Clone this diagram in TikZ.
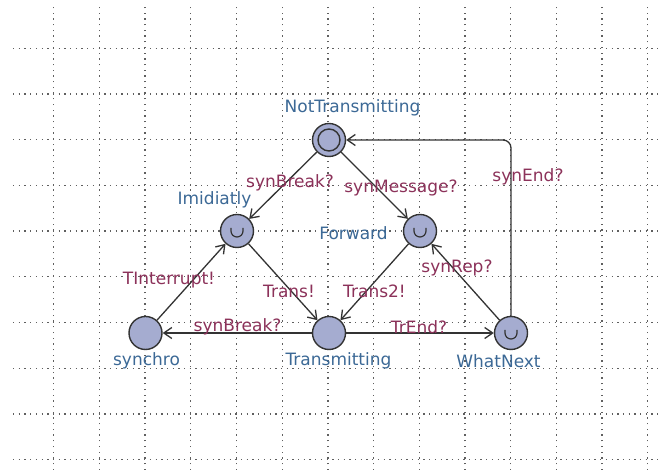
\documentclass[tikz,border=0pt]{standalone}
\usepackage{fontspec}
\setmainfont{DejaVu Sans}
\usetikzlibrary{arrows.meta}

\definecolor{locfill}{RGB}{165,172,208}
\definecolor{namecol}{RGB}{60,105,150}
\definecolor{synccol}{RGB}{140,50,90}
\definecolor{gridcol}{RGB}{95,95,95}

\begin{document}
\begin{tikzpicture}[x=1pt,y=1pt,>={Straight Barb[length=8pt,width=11pt]},
  loc/.style={circle,draw=black!80,line width=1.4pt,fill=locfill,minimum size=33pt,inner sep=0pt},
  urgent/.style={loc,path picture={\draw[black!80,line width=1.2pt]
      ([shift={(-6pt,3pt)}]path picture bounding box.center) -- ++(0,-3pt) arc (180:360:6pt) -- ++(0,3pt);}},
  init/.style={loc,path picture={\draw[black!80,line width=1.4pt]
      (path picture bounding box.center) circle (11pt);}},
  locname/.style={text=namecol,font=\fontsize{17pt}{20pt}\selectfont,inner sep=0pt},
  sync/.style={text=synccol,font=\fontsize{17pt}{20pt}\selectfont,inner sep=0pt},
  edge/.style={->,draw=black!80,line width=1.3pt},
  gridline/.style={draw=gridcol,line width=1.3pt,dash pattern=on 1.3pt off 4.4pt}]
  \useasboundingbox[fill=white] (0,0) rectangle (664,470);

  % dotted grid
  \foreach \k in {0,...,9}
    \draw[gridline] (13,{421.7-45.7*\k}) -- (662,{421.7-45.7*\k});
  \foreach \k in {0,...,13}
    \draw[gridline] ({53.7+45.7*\k},0) -- ({53.7+45.7*\k},463);

  % locations
  \node (NT) [init] at (329,330) {};
  \node (Im) [urgent] at (237,239) {};
  \node (Fw) [urgent] at (420,239) {};
  \node (Sy) [loc] at (145.5,137) {};
  \node (Tr) [loc] at (329,137) {};
  \node (WN) [urgent] at (511,137) {};

  \node (NTname) [locname] at (352.5,362) {NotTransmitting};
  \node (Imname) [locname] at (214.5,270) {Imidiatly};
  \node (Fwname) [locname] at (353.5,237) {Forward};
  \node (Syname) [locname] at (146.5,109) {synchro};
  \node (Trname) [locname] at (338.5,109) {Transmitting};
  \node (WNname) [locname] at (498.5,109) {WhatNext};

  % transitions
  \draw[edge] (NT) -- (Im);
  \draw[edge] (NT) -- (Fw);
  \draw[edge] (Im) -- (Tr);
  \draw[edge] (Fw) -- (Tr);
  \draw[edge] (Sy) -- (Im);
  \draw[edge] (Tr) -- (Sy);
  \draw[edge] (Tr) -- (WN);
  \draw[edge] (WN) -- (Fw);
  \draw[edge,rounded corners=8pt] (WN) |- (NT);

  \node (sBreakA) [sync] at (290,287) {synBreak?};
  \node (sMessage) [sync] at (401,282) {synMessage?};
  \node (sEnd) [sync] at (528,293) {synEnd?};
  \node (sInterrupt) [sync] at (169,190) {TInterrupt!};
  \node (sTrans) [sync] at (289,179) {Trans!};
  \node (sTransB) [sync] at (374.5,179) {Trans2!};
  \node (sRep) [sync] at (457,202) {synRep?};
  \node (sBreakB) [sync] at (237.5,143) {synBreak?};
  \node (sTrEnd) [sync] at (419,143) {TrEnd?};
\end{tikzpicture}
\end{document}
